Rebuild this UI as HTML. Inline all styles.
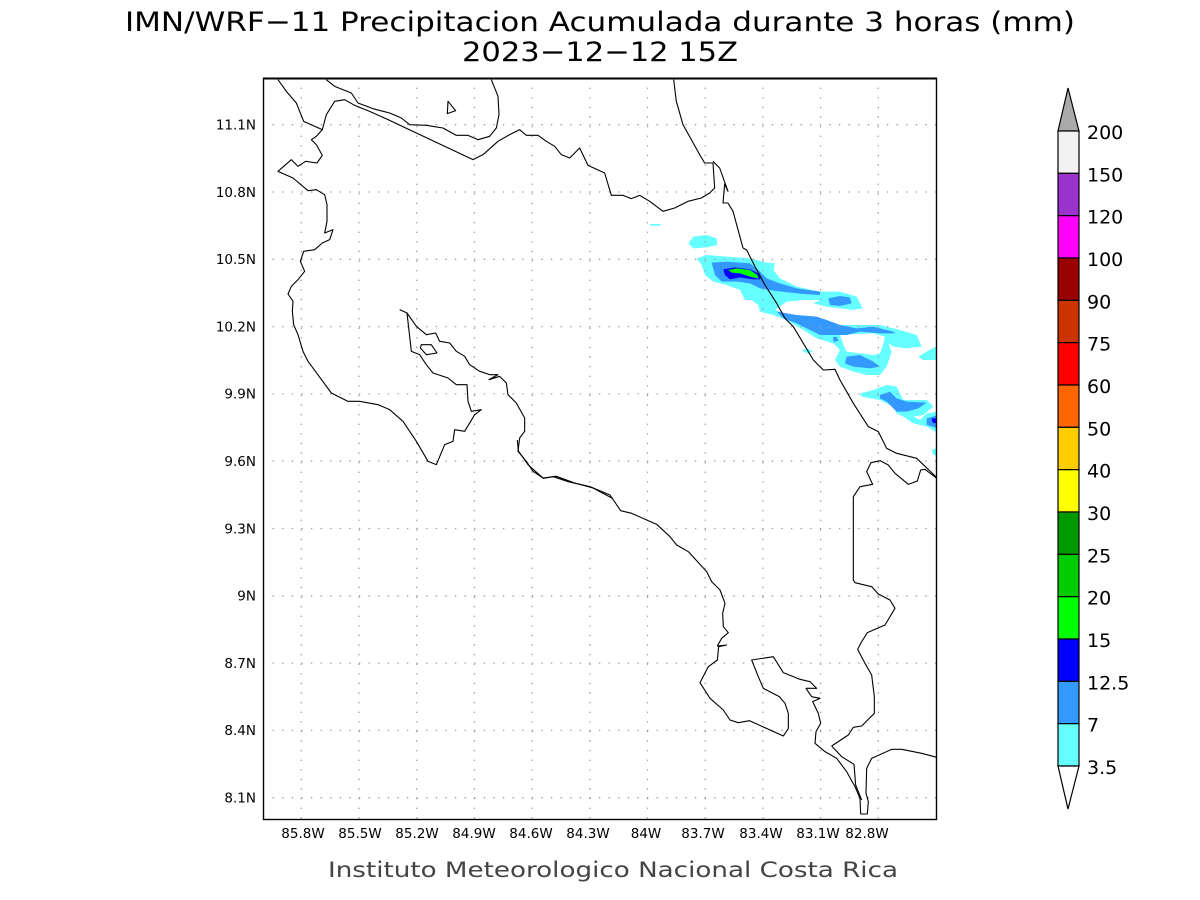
<!DOCTYPE html>
<html><head><meta charset="utf-8"><style>
html,body{margin:0;padding:0;background:#fff;}
svg{display:block;}
text{font-family:"DejaVu Sans","Liberation Sans",sans-serif;}
</style></head><body>
<svg width="1200" height="900" viewBox="0 0 1200 900" xmlns="http://www.w3.org/2000/svg">
<rect width="1200" height="900" fill="#fff"/>
<text x="600" y="31" font-size="27" text-anchor="middle" textLength="950" lengthAdjust="spacingAndGlyphs" fill="#000">IMN/WRF−11 Precipitacion Acumulada durante 3 horas (mm)</text>
<text x="600" y="61" font-size="27" text-anchor="middle" textLength="276" lengthAdjust="spacingAndGlyphs" fill="#000">2023−12−12 15Z</text>

<defs><clipPath id="pc"><rect x="263" y="78" width="674" height="742"/></clipPath></defs>

<g clip-path="url(#pc)">
<!-- precipitation -->
<g transform="translate(640,220) scale(0.33333)">
<polygon fill="#66ffff" points="30,12 62,12 62,17 30,17"/>
<polygon fill="#66ffff" points="145,70 160,50 200,45 230,55 232,75 200,82 160,85"/>
<polygon fill="#66ffff" points="170,115 200,105 260,110 330,115 380,128 405,130 400,150 420,175 470,200 540,215 600,215 650,230 668,265 640,270 600,265 560,260 520,250 540,240 490,240 440,245 405,270 450,285 520,290 560,300 600,315 680,315 720,315 780,330 830,345 845,380 800,385 760,380 745,370 755,395 740,440 720,465 680,465 640,455 600,440 585,420 600,390 580,370 530,355 490,330 440,300 400,285 360,275 355,255 335,240 315,240 300,210 260,195 220,185 195,165 185,135"/>
<polygon fill="#ffffff" points="600,345 650,342 700,340 735,350 730,372 720,400 700,405 660,400 620,395 610,375"/>
<polygon fill="#66ffff" points="485,390 505,386 518,395 500,400"/>
<polygon fill="#66ffff" points="660,520 700,510 740,495 770,500 790,540 860,540 880,560 850,585 820,590 840,600 860,580 895,575 895,640 860,620 820,610 790,590 770,580 760,560 720,540 665,530"/>
<polygon fill="#66ffff" points="835,410 860,395 895,375 895,420 850,420"/>
<polygon fill="#66ffff" points="875,690 895,682 895,708 880,705"/>
<polygon fill="#3399ff" points="215,128 260,125 330,130 355,150 380,175 420,190 470,205 540,215 540,225 490,222 450,218 400,212 360,205 330,190 290,185 245,185 225,165"/>
<polygon fill="#3399ff" points="565,235 600,228 630,232 635,250 600,258 570,255"/>
<polygon fill="#3399ff" points="410,275 470,285 530,290 560,300 600,315 650,325 700,320 760,335 765,340 720,340 660,335 620,345 570,345 540,345 510,330 470,310 430,295"/>
<polygon fill="#3399ff" points="620,410 660,405 700,425 720,440 690,445 640,440 615,430"/>
<polygon fill="#3399ff" points="578,352 590,350 595,362 582,366"/>
<polygon fill="#3399ff" points="720,525 750,515 770,535 800,545 860,548 835,565 800,575 770,575 740,545 720,535"/>
<polygon fill="#3399ff" points="860,595 895,585 895,625 860,615"/>
<polygon fill="#0000ff" points="250,148 285,142 330,148 355,160 362,178 340,178 300,172 270,178 255,165"/>
<polygon fill="#0000ff" points="875,595 895,595 895,612 878,608"/>
<polygon fill="#00ff00" points="265,150 290,145 330,150 352,165 356,176 330,170 300,160 275,158"/>
</g>

<!-- grid -->
<g stroke="#999" stroke-width="1.3" stroke-dasharray="1.3,8.3">
<line x1="301.3" y1="78" x2="301.3" y2="820"/><line x1="359" y1="78" x2="359" y2="820"/>
<line x1="416.7" y1="78" x2="416.7" y2="820"/><line x1="474.4" y1="78" x2="474.4" y2="820"/>
<line x1="532.1" y1="78" x2="532.1" y2="820"/><line x1="589.8" y1="78" x2="589.8" y2="820"/>
<line x1="647.5" y1="78" x2="647.5" y2="820"/><line x1="705.2" y1="78" x2="705.2" y2="820"/>
<line x1="762.9" y1="78" x2="762.9" y2="820"/><line x1="820.6" y1="78" x2="820.6" y2="820"/>
<line x1="878.3" y1="78" x2="878.3" y2="820"/>
<line x1="263" y1="124.7" x2="937" y2="124.7"/><line x1="263" y1="192" x2="937" y2="192"/>
<line x1="263" y1="259.3" x2="937" y2="259.3"/><line x1="263" y1="326.6" x2="937" y2="326.6"/>
<line x1="263" y1="393.9" x2="937" y2="393.9"/><line x1="263" y1="461.2" x2="937" y2="461.2"/>
<line x1="263" y1="528.5" x2="937" y2="528.5"/><line x1="263" y1="595.8" x2="937" y2="595.8"/>
<line x1="263" y1="663.1" x2="937" y2="663.1"/><line x1="263" y1="730.4" x2="937" y2="730.4"/>
<line x1="263" y1="797.7" x2="937" y2="797.7"/>
</g>

<!-- coastlines -->
<g fill="none" stroke="#000" stroke-width="1.1" stroke-linejoin="round">
<g transform="translate(263,78) scale(0.33333)">
<polyline vector-effect="non-scaling-stroke" points="45,5 70,40 100,75 122,130 178,155 160,175 145,185 160,200 178,232 162,255 128,250 105,265 85,245 45,280 90,300 135,338 160,335 185,350 192,380 192,430 185,465 210,455 200,485 178,495 155,515 122,520 112,550 125,580 105,605 85,625 75,648 90,670 88,700 92,740 105,770 120,820 135,850 205,945 255,970 290,970 345,980 380,995 420,1030 460,1090 495,1150 520,1160 545,1100 570,1090 575,1055 605,1060 635,1010 655,995 625,1000 615,970 612,920 580,920 555,900 510,885 490,860 470,830 445,820 432,705 410,695"/>
<polyline vector-effect="non-scaling-stroke" points="432,705 460,745 490,770 518,765 530,790 560,795 580,820 605,835 620,860 650,880 680,890 705,890 678,905 710,895 730,915 735,950 760,975 785,1020 785,1060 770,1080 765,1120 790,1150 810,1180 840,1200 880,1195 935,1215 990,1230 1050,1262"/>
<polyline vector-effect="non-scaling-stroke" points="190,5 215,25 265,45 285,75 330,92 380,105 415,120 440,140 490,142 540,150 580,172 615,172 645,185 680,175 700,150 708,110 705,55 685,5"/>
<polyline vector-effect="non-scaling-stroke" points="178,155 190,110 215,70 245,65 275,82 320,100 375,125 630,245 660,230 705,190 740,170 770,155 790,172 825,172 850,190 875,205 895,230 920,240 950,210 975,262 1025,285 1045,352 1080,352 1105,362 1130,352 1160,370 1200,400 1235,390 1275,370 1315,360 1340,345 1355,330 1350,255 1325,255 1310,230 1260,140 1240,70 1232,5"/>
<polyline vector-effect="non-scaling-stroke" points="1350,250 1370,270 1395,340 1385,318 1380,375 1395,375 1410,400 1440,510"/>
<polygon vector-effect="non-scaling-stroke" points="555,70 578,98 553,107"/>
<polygon vector-effect="non-scaling-stroke" points="475,800 505,800 522,825 490,830 472,810"/>
</g>
<g transform="translate(640,220) scale(0.33333)">
<polyline vector-effect="non-scaling-stroke" points="309,84 320,90 345,140 375,195 410,250 435,295 460,320 520,420 550,450 585,448 600,480 640,550 685,620 715,635 740,685 770,700 830,715 893,775"/>
</g>
<g transform="translate(480,440) scale(0.33333)">
<polyline vector-effect="non-scaling-stroke" points="112,0 115,33 145,75 190,115 220,110 265,125 330,140 390,165 422,212 455,220 530,253 570,290 590,315 625,335 680,395 695,425 720,450 735,490 728,520 730,560 745,578 725,595 712,618 740,615 716,620 712,660 685,680 660,728 690,775 730,810 750,840 775,848 808,842 910,888 925,866 925,820 915,790 898,770 850,745 835,710 815,660 880,650 910,698 960,718 990,725 1010,745 978,745 995,770 1020,775 998,785 1015,820 1022,850 1008,875 1005,910 1035,935 1070,955 1100,995 1125,1040 1140,1075 1142,1122 1162,1122 1165,1085 1158,1060 1160,985 1175,955 1235,928 1265,928 1325,940 1370,952"/>
<polyline vector-effect="non-scaling-stroke" points="1055,918 1085,950 1122,973 1127,1035 1145,1080"/>
<polyline vector-effect="non-scaling-stroke" points="1055,918 1105,885 1120,862 1145,858 1183,820 1183,770 1175,705 1155,670 1133,628 1145,605 1162,578 1215,555 1245,505 1230,480 1195,462 1175,440 1125,428 1120,420 1120,170 1140,140 1178,133 1160,95 1173,68 1200,62 1225,75 1245,100 1285,133 1312,123 1322,90 1335,88 1370,115"/>
</g>
</g>
</g>
<rect x="263.5" y="78.5" width="673" height="741" fill="none" stroke="#000" stroke-width="1.4"/>
<line x1="263" y1="78.5" x2="937" y2="78.5" stroke="#000" stroke-width="2"/>

<!-- axis labels -->
<g font-family="Liberation Sans, sans-serif" font-size="13.5" fill="#000" text-anchor="end">
<text x="256" y="129.5">11.1N</text><text x="256" y="196.8">10.8N</text>
<text x="256" y="264.1">10.5N</text><text x="256" y="331.4">10.2N</text>
<text x="256" y="398.7">9.9N</text><text x="256" y="466">9.6N</text>
<text x="256" y="533.3">9.3N</text><text x="256" y="600.6">9N</text>
<text x="256" y="667.9">8.7N</text><text x="256" y="735.2">8.4N</text>
<text x="256" y="802.5">8.1N</text>
</g>
<g font-family="Liberation Sans, sans-serif" font-size="13.5" fill="#000" text-anchor="middle">
<text x="303" y="838">85.8W</text><text x="360" y="838">85.5W</text><text x="417" y="838">85.2W</text>
<text x="474" y="838">84.9W</text><text x="531" y="838">84.6W</text><text x="588" y="838">84.3W</text>
<text x="646" y="838">84W</text><text x="703" y="838">83.7W</text><text x="761" y="838">83.4W</text>
<text x="818" y="838">83.1W</text><text x="867" y="838">82.8W</text>
</g>
<text x="613" y="877" font-size="21" text-anchor="middle" fill="#444" textLength="570" lengthAdjust="spacingAndGlyphs">Instituto Meteorologico Nacional Costa Rica</text>

<!-- colorbar -->
<g stroke="#000" stroke-width="1.2">
<polygon points="1068,88 1058,131 1079,131" fill="#aaaaaa"/>
<rect x="1058" y="131" width="21" height="42.33" fill="#f2f2f2"/>
<rect x="1058" y="173.33" width="21" height="42.33" fill="#9933cc"/>
<rect x="1058" y="215.67" width="21" height="42.33" fill="#ff00ff"/>
<rect x="1058" y="258" width="21" height="42.33" fill="#990000"/>
<rect x="1058" y="300.33" width="21" height="42.33" fill="#cc3300"/>
<rect x="1058" y="342.67" width="21" height="42.33" fill="#ff0000"/>
<rect x="1058" y="385" width="21" height="42.33" fill="#ff6600"/>
<rect x="1058" y="427.33" width="21" height="42.33" fill="#ffcc00"/>
<rect x="1058" y="469.67" width="21" height="42.33" fill="#ffff00"/>
<rect x="1058" y="512" width="21" height="42.33" fill="#009900"/>
<rect x="1058" y="554.33" width="21" height="42.33" fill="#00cc00"/>
<rect x="1058" y="596.67" width="21" height="42.33" fill="#00ff00"/>
<rect x="1058" y="639" width="21" height="42.33" fill="#0000ff"/>
<rect x="1058" y="681.33" width="21" height="42.33" fill="#3399ff"/>
<rect x="1058" y="723.67" width="21" height="42.33" fill="#66ffff"/>
<polygon points="1058,766 1079,766 1068,809" fill="#ffffff"/>
</g>
<g font-size="19" fill="#000">
<text x="1087" y="139">200</text><text x="1087" y="181.3">150</text>
<text x="1087" y="223.7">120</text><text x="1087" y="266">100</text>
<text x="1087" y="308.3">90</text><text x="1087" y="350.7">75</text>
<text x="1087" y="393">60</text><text x="1087" y="435.3">50</text>
<text x="1087" y="477.7">40</text><text x="1087" y="520">30</text>
<text x="1087" y="562.3">25</text><text x="1087" y="604.7">20</text>
<text x="1087" y="647">15</text><text x="1087" y="689.3">12.5</text>
<text x="1087" y="731.7">7</text><text x="1087" y="774">3.5</text>
</g>
</svg>
</body></html>
